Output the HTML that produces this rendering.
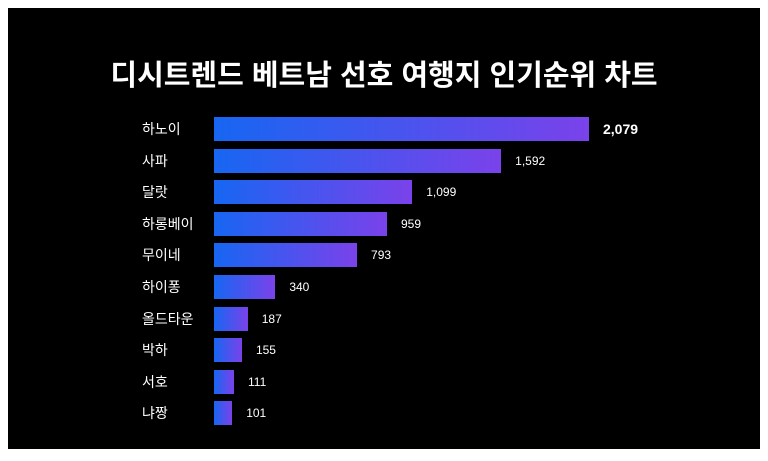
<!DOCTYPE html>
<html><head><meta charset="utf-8"><style>
body{margin:0;width:768px;height:461px;background:#fff;overflow:hidden;font-family:"Liberation Sans","Noto Sans CJK KR",sans-serif}
#c{position:absolute;left:8px;top:8px;width:752px;height:441px;background:#000}
.t{position:absolute;left:0;right:0;top:48px;text-align:center;color:#fff;font-size:29px;font-weight:bold;line-height:40px}
.l{position:absolute;left:134px;color:#fff;font-size:14px;line-height:24px;text-align:left}
.b{position:absolute;left:206px;height:24px;background:linear-gradient(90deg,#1766f2,#7a42ea)}
.v{position:absolute;color:#fff;font-size:12px;line-height:24px}
</style></head><body><div id="c">
<div class="t">디시트렌드 베트남 선호 여행지 인기순위 차트</div>
</div>
<script>
const d=[["하노이",2079],["사파",1592],["달랏",1099],["하롱베이",959],["무이네",793],["하이퐁",340],["올드타운",187],["박하",155],["서호",111],["냐짱",101]];
const c=document.getElementById('c');
d.forEach((r,i)=>{const y=109+i*31.6;const w=r[1]*375/2079;
c.insertAdjacentHTML('beforeend',`<div class="l" style="top:${y}px">${r[0]}</div><div class="b" style="top:${y}px;width:${w}px"></div><div class="v" style="top:${y}px;left:${206+w+14}px;${i==0?'font-size:14px;font-weight:bold':''}">${r[1].toLocaleString('en-US')}</div>`);});
</script>
</body></html>
